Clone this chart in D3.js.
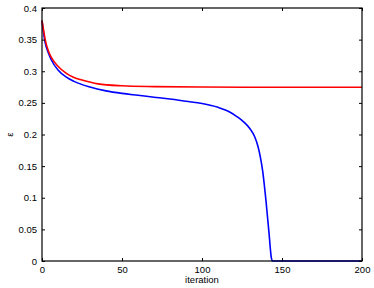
<!DOCTYPE html>
<html><head><meta charset="utf-8">
<script src="https://cdn.jsdelivr.net/npm/d3@7"></script>
<style>body{margin:0;background:#fff}svg{display:block}text{font-family:"Liberation Sans",Arial,sans-serif}</style>
</head><body><svg id="c" width="374" height="288"></svg>
<script>
const xTicks = [0, 50, 100, 150, 200];
const yTicks = [0, 0.05, 0.1, 0.15, 0.2, 0.25, 0.3, 0.35, 0.4];
const xLabel = "iteration";
const yLabel = "ε";
const redIter = [0, 1, 2, 4, 6, 10, 15, 20, 25, 35, 50, 70, 100, 150, 200];
const redVal  = [0.38, 0.365, 0.35, 0.332, 0.321, 0.308, 0.297, 0.290, 0.286, 0.280, 0.277, 0.2757, 0.275, 0.2747, 0.2746];
const blueIter = [0, 1, 2, 4, 6, 10, 15, 20, 30, 40, 50, 60, 70, 80, 90, 100, 110, 117, 122, 126, 130, 133, 135, 136.5, 138, 139, 140, 141, 142, 142.8, 143.4, 144, 150, 200];
const blueVal  = [0.38, 0.36, 0.345, 0.329, 0.317, 0.302, 0.291, 0.284, 0.275, 0.269, 0.265, 0.262, 0.259, 0.256, 0.2525, 0.249, 0.243, 0.236, 0.228, 0.22, 0.209, 0.196, 0.181, 0.164, 0.141, 0.119, 0.095, 0.068, 0.041, 0.017, 0.004, 0, 0, 0];

const svg = d3.select("#c");
const m = {l: 42, r: 12, t: 8, b: 27};
const W = 374, H = 288;
const x = d3.scaleLinear().domain([0, 200]).range([m.l, W - m.r]);
const y = d3.scaleLinear().domain([0, 0.4]).range([H - m.b, m.t]);
const fmt = d => d === 0 ? "0" : String(+d.toFixed(2));

const line = d3.line().x(d => x(d[0])).y(d => y(d[1])).curve(d3.curveMonotoneX);
const plot = svg.append("g");
plot.append("path").datum(blueIter.map((v, i) => [v, blueVal[i]]))
  .attr("d", line).attr("fill", "none").attr("stroke", "#0000ff").attr("stroke-width", 1.6);
plot.append("path").datum(redIter.map((v, i) => [v, redVal[i]]))
  .attr("d", line).attr("fill", "none").attr("stroke", "#ff0000").attr("stroke-width", 1.6);

const ax = (g, a) => g.call(a).call(s => s.select(".domain").remove())
  .call(s => s.selectAll("line").attr("stroke", "#000"))
  .call(s => s.selectAll("text").attr("font-size", "9.5px").attr("fill", "#000"));

svg.append("g").attr("transform", `translate(0,${H - m.b})`)
  .call(g => ax(g, d3.axisBottom(x).tickValues(xTicks).tickSize(-3).tickPadding(5).tickFormat(d3.format("d"))));
svg.append("g").attr("transform", `translate(0,${m.t})`)
  .call(g => ax(g, d3.axisTop(x).tickValues(xTicks).tickSize(-3).tickFormat("")));
svg.append("g").attr("transform", `translate(${m.l},0)`)
  .call(g => ax(g, d3.axisLeft(y).tickValues(yTicks).tickSize(-3).tickPadding(5).tickFormat(fmt)));
svg.append("g").attr("transform", `translate(${W - m.r},0)`)
  .call(g => ax(g, d3.axisRight(y).tickValues(yTicks).tickSize(-3).tickFormat("")));

svg.append("rect").attr("x", m.l).attr("y", m.t).attr("width", W - m.l - m.r).attr("height", H - m.t - m.b)
  .attr("fill", "none").attr("stroke", "#000").attr("stroke-width", 1.2);

svg.append("text").attr("x", x(100)).attr("y", 283).attr("text-anchor", "middle")
  .attr("font-size", "9.5px").text(xLabel);
svg.append("text").attr("transform", `translate(13,${y(0.2)}) rotate(-90)`).attr("text-anchor", "middle")
  .attr("font-size", "9.5px").text(yLabel);
</script></body></html>
